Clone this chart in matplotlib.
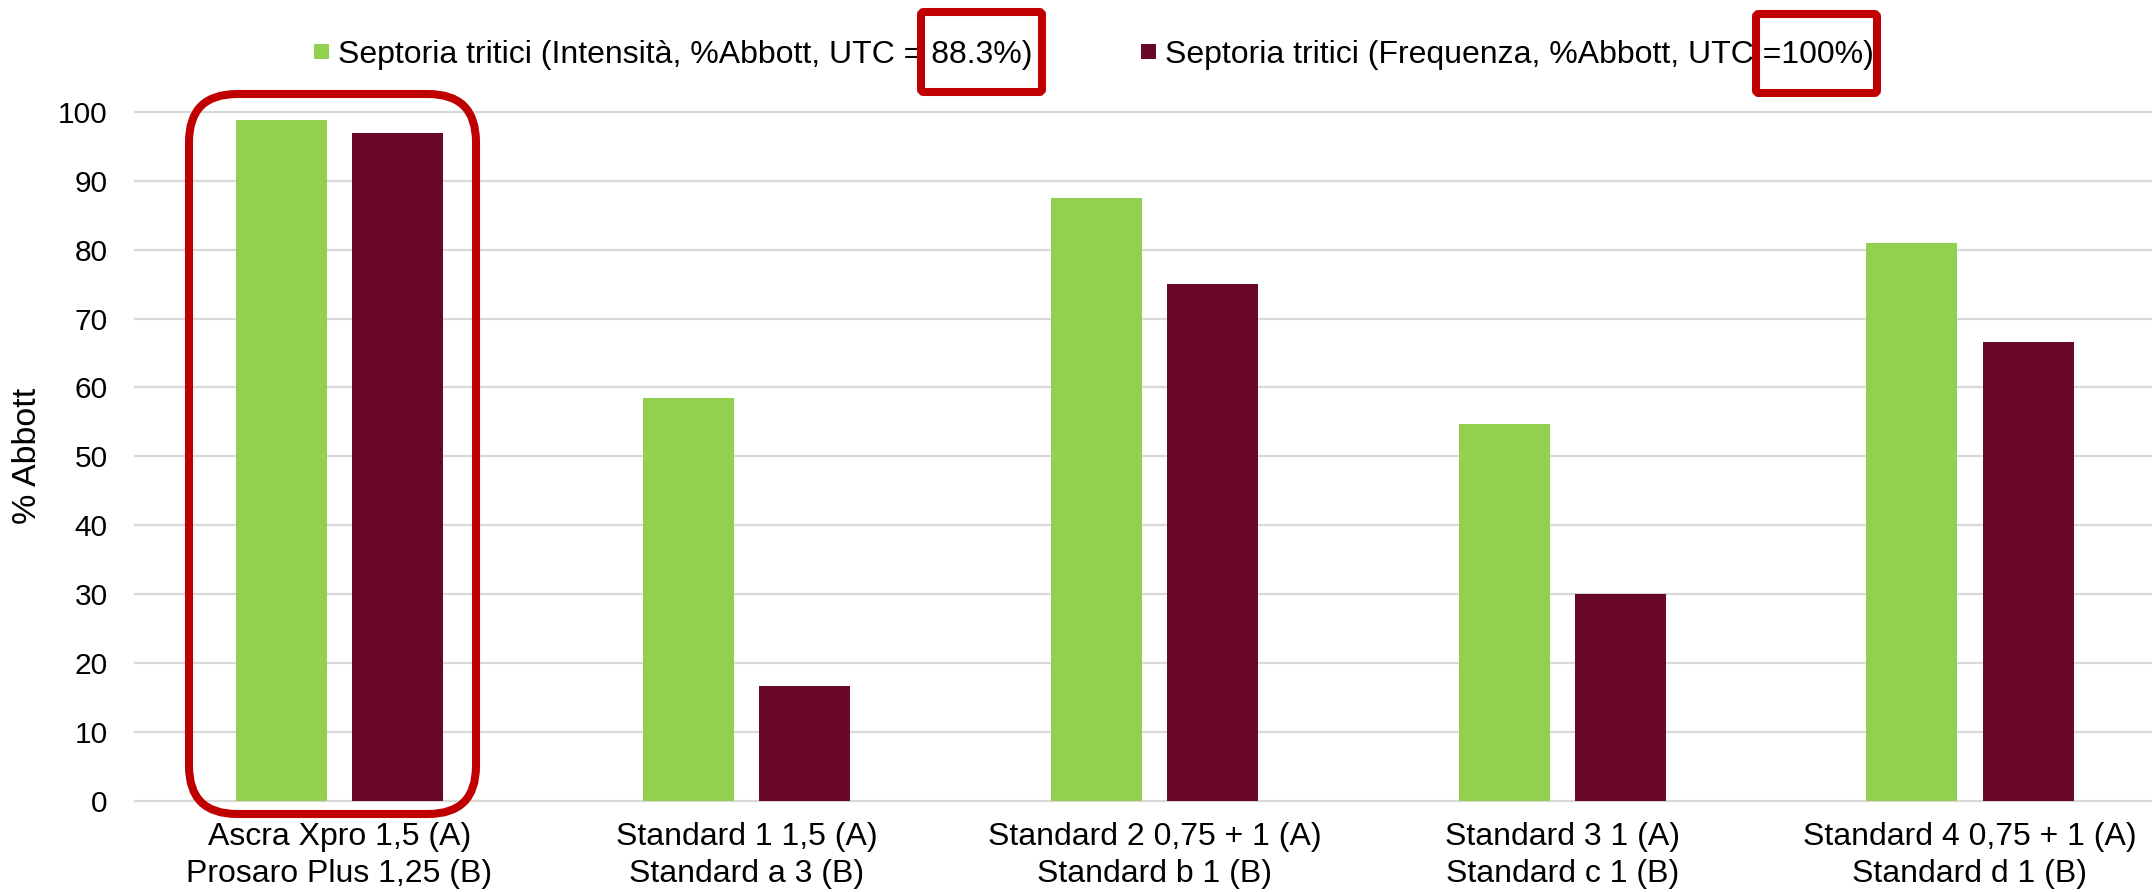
import matplotlib
matplotlib.use("Agg")
import matplotlib.pyplot as plt
import numpy as np
from matplotlib.patches import FancyBboxPatch

plt.rcParams['font.family'] = ['Liberation Sans', 'DejaVu Sans']

categories = [
    "Ascra Xpro 1,5 (A)\nProsaro Plus 1,25 (B)",
    "Standard 1 1,5 (A)\nStandard a 3 (B)",
    "Standard 2 0,75 + 1 (A)\nStandard b 1 (B)",
    "Standard 3 1 (A)\nStandard c 1 (B)",
    "Standard 4 0,75 + 1 (A)\nStandard d 1 (B)",
]
intensita = [98.9, 58.5, 87.5, 54.7, 81.0]
frequenza = [97.0, 16.7, 75.0, 30.0, 66.6]
series_names = [
    "Septoria tritici (Intensità, %Abbott, UTC = 88.3%)",
    "Septoria tritici (Frequenza, %Abbott, UTC =100%)",
]
yticks = [0, 10, 20, 30, 40, 50, 60, 70, 80, 90, 100]

GREEN = "#92D050"
MAROON = "#690727"
RED = "#C00000"
GRID = "#D9D9D9"

W, H = 2152, 892
fig = plt.figure(figsize=(W / 100, H / 100), dpi=100)

left_px, right_px = 135.35, 2152
top_px, bottom_px = 112, 800.7
ax = fig.add_axes([left_px / W, (H - bottom_px) / H,
                   (right_px - left_px) / W, (bottom_px - top_px) / H])

x = np.arange(len(categories))
bw = 0.2232
off = 0.1423
b1 = ax.bar(x - off, intensita, width=bw, color=GREEN, zorder=3, linewidth=0,
            label=series_names[0])
b2 = ax.bar(x + off, frequenza, width=bw, color=MAROON, zorder=3, linewidth=0,
            label=series_names[1])

cat_px = 407.7
ax.set_xlim(-0.5, -0.5 + (right_px - left_px) / cat_px)
ax.set_ylim(0, 100)
ax.set_yticks(yticks)
ax.set_xticks(x)
ax.set_xticklabels(categories, fontsize=23, linespacing=1.33)
ax.tick_params(axis='y', labelsize=21.5, length=0, pad=20)
ax.tick_params(axis='x', length=0, pad=15)
ax.yaxis.grid(True, color=GRID, linewidth=1.6, zorder=0)
ax.set_axisbelow(True)
for gl in ax.get_ygridlines():
    gl.set_clip_on(False)
for s in ax.spines.values():
    s.set_visible(False)
ax.set_ylabel("% Abbott", fontsize=24.5, labelpad=11)

leg = fig.legend(handles=[b1, b2], labels=series_names, loc='center',
                 bbox_to_anchor=(1094 / W, 1 - 55 / H), ncol=2, frameon=False,
                 fontsize=23, handlelength=0.47, handleheight=0.35,
                 handletextpad=0.28, columnspacing=3.4, borderpad=0)

# overlay in pixel coordinates for highlight boxes
ov = fig.add_axes([0, 0, 1, 1], zorder=10)
ov.set_xlim(0, W)
ov.set_ylim(H, 0)
ov.axis('off')
ov.patch.set_alpha(0)

def rbox(x0, y0, x1, y1, r, lw):
    p = FancyBboxPatch((x0, y0), x1 - x0, y1 - y0,
                       boxstyle=f"round,pad=0,rounding_size={r}",
                       fill=False, edgecolor=RED, linewidth=lw)
    ov.add_patch(p)

rbox(189, 94, 476, 814, 48, 5.8)
rbox(921, 12, 1042, 92, 3, 5.8)
rbox(1756, 14, 1877, 93, 3, 5.8)

fig.savefig("out.png", dpi=100)
